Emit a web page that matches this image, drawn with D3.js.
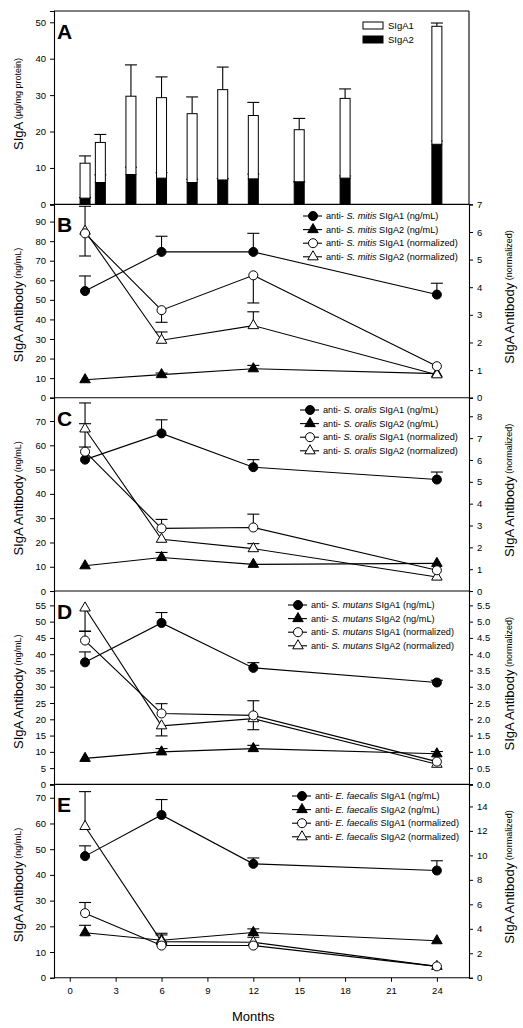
<!DOCTYPE html>
<html><head><meta charset="utf-8">
<script src="https://cdn.jsdelivr.net/npm/d3@7"></script>
<style>
body{margin:0;background:#fff}
text{font-family:Arial,"Liberation Sans",Helvetica,sans-serif;fill:#000}
</style>
</head><body>
<svg id="chart" width="523" height="1028"></svg>
<script>
// ---------- DATA ----------
// Panel A: stacked bars (µg/mg protein)
const monthsA   = [1, 2, 4, 6, 8, 10, 12, 15, 18, 24];
const sigA2     = [1.7, 6.0, 8.2, 7.2, 6.0, 6.7, 7.0, 6.2, 7.2, 16.5];
const sigA2Err  = [0.2, 2.1, 2.0, 1.5, 0.9, 0.4, 1.3, 0.0, 0.6, 0.9];
const sigA1     = [9.6, 11.0, 21.5, 22.1, 18.9, 24.8, 17.4, 14.3, 21.9, 32.4];
const sigA1Err  = [2.0, 2.2, 8.6, 5.7, 4.6, 6.2, 3.6, 3.1, 2.6, 0.9];
const barLegend = ["SIgA1", "SIgA2"];

// Panels B–E: antibody vs months
const months = [1, 6, 12, 24];
const species = ["S. mitis", "S. oralis", "S. mutans", "E. faecalis"];
const seriesSuffix = ["SIgA1 (ng/mL)", "SIgA2 (ng/mL)", "SIgA1 (normalized)", "SIgA2 (normalized)"];

// error: positive = upward bar, negative = downward bar, [lo,hi] = both ways, null = none
const mitisA1     = [54.5, 74.5, 74.5, 52.7];
const mitisA1Err  = [7.7, 8.0, 9.5, 5.8];
const mitisA2     = [9.2, 11.8, 14.8, 12.3];
const mitisA2Err  = [null, 0.8, 1.7, null];
const mitisA1n    = [5.95, 3.17, 4.43, 1.14];
const mitisA1nErr = [null, -0.44, -1.0, null];
const mitisA2n    = [6.03, 2.08, 2.61, 0.83];
const mitisA2nErr = [[0.9, 0.9], 0.3, 0.5, null];

const oralisA1     = [54.1, 64.9, 51.0, 45.9];
const oralisA1Err  = [5.2, 5.6, 3.1, 3.1];
const oralisA2     = [10.4, 13.8, 11.0, 11.4];
const oralisA2Err  = [null, 2.1, null, null];
const oralisA1n    = [6.38, 2.87, 2.91, 0.95];
const oralisA1nErr = [1.28, 0.41, 0.61, null];
const oralisA2n    = [7.42, 2.37, 1.94, 0.64];
const oralisA2nErr = [1.19, null, 0.23, null];

const mutansA1     = [37.5, 49.6, 35.8, 31.3];
const mutansA1Err  = [3.2, 3.2, 1.6, 0.7];
const mutansA2     = [8.0, 10.0, 11.0, 9.4];
const mutansA2Err  = [null, 1.0, 1.0, 0.7];
const mutansA1n    = [4.42, 2.18, 2.12, 0.70];
const mutansA1nErr = [0.29, 0.30, 0.45, null];
const mutansA2n    = [5.42, 1.80, 2.02, 0.62];
const mutansA2nErr = [-0.72, -0.31, -0.34, null];

const faecalisA1     = [47.3, 63.3, 44.3, 41.7];
const faecalisA1Err  = [4.0, 6.0, 2.3, 3.8];
const faecalisA2     = [17.5, 14.6, 17.6, 14.4];
const faecalisA2Err  = [2.9, 2.7, 1.4, null];
const faecalisA1n    = [5.28, 2.63, 2.63, 0.93];
const faecalisA1nErr = [0.87, null, null, null];
const faecalisA2n    = [12.36, 2.95, 2.90, 0.93];
const faecalisA2nErr = [2.85, 0.55, 0.41, null];

// tick labels
const xTicks = [0, 3, 6, 9, 12, 15, 18, 21, 24];
const xLabel = "Months";

// ---------- LAYOUT ----------
const svg = d3.select("#chart");
const L = 54, R = 469, top0 = 11, ph = 193.35;
const x = d3.scaleLinear().domain([-1.03, 26.1]).range([L, R]);

const panels = [
  {letter:"B", sp:0, yl:[0,98.8], yr:[0,7], lt:d3.range(0,91,10), rt:d3.range(0,8,1), rf:d3.format("d"),
   data:[mitisA1,mitisA2,mitisA1n,mitisA2n], err:[mitisA1Err,mitisA2Err,mitisA1nErr,mitisA2nErr], legX:313, legY:216},
  {letter:"C", sp:1, yl:[0,79.6], yr:[0,8.85], lt:d3.range(0,71,10), rt:d3.range(0,9,1), rf:d3.format("d"),
   data:[oralisA1,oralisA2,oralisA1n,oralisA2n], err:[oralisA1Err,oralisA2Err,oralisA1nErr,oralisA2nErr], legX:310, legY:410},
  {letter:"D", sp:2, yl:[0,59.4], yr:[0,5.94], lt:d3.range(0,56,5), rt:d3.range(0,5.51,0.5), rf:d3.format(".1f"),
   data:[mutansA1,mutansA2,mutansA1n,mutansA2n], err:[mutansA1Err,mutansA2Err,mutansA1nErr,mutansA2nErr], legX:298, legY:605},
  {letter:"E", sp:3, yl:[0,75.2], yr:[0,15.8], lt:d3.range(0,71,10), rt:d3.range(0,15,2), rf:d3.format("d"),
   data:[faecalisA1,faecalisA2,faecalisA1n,faecalisA2n], err:[faecalisA1Err,faecalisA2Err,faecalisA1nErr,faecalisA2nErr], legX:302, legY:796}
];

const stroke = "#000";
const tickFont = 9.5;

function styleAxis(g){
  g.select(".domain").attr("stroke", stroke).attr("stroke-width", 1.1);
  g.selectAll(".tick line").attr("stroke", stroke).attr("stroke-width", 1);
  g.selectAll(".tick text").attr("font-size", tickFont).attr("font-family","Arial, Liberation Sans, sans-serif");
}

function yTitle(xc, yc, main, sub, size){
  const t = svg.append("text").attr("transform", `translate(${xc},${yc}) rotate(-90)`)
    .attr("text-anchor","middle").attr("dominant-baseline","central");
  t.append("tspan").attr("font-size", size).text(main);
  t.append("tspan").attr("font-size", 9).text(" " + sub);
}

// ---------- PANEL A ----------
{
  const y0 = top0, y1 = top0 + ph;
  const y = d3.scaleLinear().domain([0, 53.1]).range([y1, y0]);
  const bw = 10, cap = 12;
  const rows = monthsA.map((m,i)=>({m, a2:sigA2[i], a2e:sigA2Err[i], a1:sigA1[i], a1e:sigA1Err[i]}));
  const stack = d3.stack().keys(["a2","a1"])(rows);
  // error bars (behind bars' top lines)
  const eg = svg.append("g").attr("stroke", stroke).attr("stroke-width", 1.1);
  rows.forEach(d=>{
    const t2 = d.a2, t1 = d.a2 + d.a1;
    [[t2, d.a2e],[t1, d.a1e]].forEach(([v,e])=>{
      eg.append("line").attr("x1",x(d.m)).attr("x2",x(d.m)).attr("y1",y(v)).attr("y2",y(v+e));
      eg.append("line").attr("x1",x(d.m)-cap/2).attr("x2",x(d.m)+cap/2).attr("y1",y(v+e)).attr("y2",y(v+e));
    });
  });
  const fills = ["#000","#fff"];
  stack.forEach((s,k)=>{
    svg.append("g").selectAll("rect").data(s).join("rect")
      .attr("x", d=>x(d.data.m)-bw/2).attr("width", bw)
      .attr("y", d=>y(d[1])).attr("height", d=>y(d[0])-y(d[1]))
      .attr("fill", fills[k]).attr("stroke", stroke).attr("stroke-width", 1);
  });
  // frame
  svg.append("line").attr("x1",L).attr("x2",R).attr("y1",y0).attr("y2",y0).attr("stroke",stroke).attr("stroke-width",1.1);
  svg.append("line").attr("x1",R).attr("x2",R).attr("y1",y0).attr("y2",y1).attr("stroke",stroke).attr("stroke-width",1.1);
  svg.append("line").attr("x1",L).attr("x2",R).attr("y1",y1).attr("y2",y1).attr("stroke",stroke).attr("stroke-width",1.1);
  svg.append("g").attr("transform",`translate(${L},0)`)
    .call(d3.axisLeft(y).tickValues(d3.range(0,51,10)).tickSize(4).tickPadding(4)).call(styleAxis);
  svg.append("text").attr("x",57).attr("y",39).attr("font-size",21).attr("font-weight","bold").text("A");
  yTitle(18, 104, "SIgA", "(µg/mg protein)", 13);
  // legend
  const lg = svg.append("g");
  [["#fff",22],["#000",36]].forEach(([f,yy],i)=>{
    lg.append("rect").attr("x",363).attr("y",yy).attr("width",20).attr("height",7).attr("fill",f).attr("stroke",stroke).attr("stroke-width",1);
    lg.append("text").attr("x",388).attr("y",yy+7).attr("font-size",9.5).text(barLegend[i]);
  });
}

// ---------- PANELS B–E ----------
const markerFill = ["#000","#000","#fff","#fff"];
const markerType = [d3.symbolCircle, d3.symbolTriangle, d3.symbolCircle, d3.symbolTriangle];
const markerSize = [64, 48, 64, 48];
const axisSide   = ["l","l","r","r"];

panels.forEach((p, pi)=>{
  const y0 = top0 + ph*(pi+1), y1 = y0 + ph;
  const yl = d3.scaleLinear().domain(p.yl).range([y1, y0]);
  const yr = d3.scaleLinear().domain(p.yr).range([y1, y0]);
  const g = svg.append("g");

  // frame lines
  g.append("line").attr("x1",L).attr("x2",R).attr("y1",y1).attr("y2",y1).attr("stroke",stroke).attr("stroke-width",1.1);

  const line = d3.line();
  // lines
  p.data.forEach((vals, si)=>{
    const ys = axisSide[si]==="l" ? yl : yr;
    g.append("path").attr("d", line(months.map((m,i)=>[x(m), ys(vals[i])])))
      .attr("fill","none").attr("stroke",stroke).attr("stroke-width",1.1);
  });
  // error bars
  const cap = 12;
  p.data.forEach((vals, si)=>{
    const ys = axisSide[si]==="l" ? yl : yr;
    p.err[si].forEach((e,i)=>{
      if(e===null) return;
      const ends = Array.isArray(e) ? [-e[0], e[1]] : [e];
      ends.forEach(d=>{
        const xv = x(months[i]), ya = ys(vals[i]), yb = ys(vals[i]+d);
        g.append("line").attr("x1",xv).attr("x2",xv).attr("y1",ya).attr("y2",yb).attr("stroke",stroke).attr("stroke-width",1.1);
        g.append("line").attr("x1",xv-cap/2).attr("x2",xv+cap/2).attr("y1",yb).attr("y2",yb).attr("stroke",stroke).attr("stroke-width",1.1);
      });
    });
  });
  // markers (open ones last so they sit on top, as in the figure)
  [0,1,3,2].forEach(si=>{
    const vals = p.data[si];
    const ys = axisSide[si]==="l" ? yl : yr;
    const sym = d3.symbol().type(markerType[si]).size(markerSize[si]);
    g.append("g").selectAll("path").data(vals).join("path")
      .attr("transform",(d,i)=>`translate(${x(months[i])},${ys(d)})`)
      .attr("d", sym).attr("fill", markerFill[si]).attr("stroke",stroke).attr("stroke-width",1);
  });

  // axes
  svg.append("g").attr("transform",`translate(${L},0)`)
    .call(d3.axisLeft(yl).tickValues(p.lt).tickSize(4).tickPadding(4)).call(styleAxis);
  svg.append("g").attr("transform",`translate(${R},0)`)
    .call(d3.axisRight(yr).tickValues(p.rt).tickFormat(p.rf).tickSize(4).tickPadding(4)).call(styleAxis);

  // letter
  svg.append("text").attr("x",57).attr("y",y0+28).attr("font-size",21).attr("font-weight","bold").text(p.letter);

  // titles
  const mid = (y0+y1)/2;
  yTitle(18, mid+4, "SIgA Antibody", "(ng/mL)", 13);
  yTitle(509, mid-4, "SIgA Antibody", "(normalized)", 13);

  // legend
  const lg = svg.append("g");
  seriesSuffix.forEach((suf, si)=>{
    const ly = p.legY + si*13.6;
    lg.append("line").attr("x1",p.legX-10).attr("x2",p.legX+9).attr("y1",ly).attr("y2",ly).attr("stroke",stroke).attr("stroke-width",1.1);
    lg.append("path").attr("transform",`translate(${p.legX},${ly})`)
      .attr("d", d3.symbol().type(markerType[si]).size(markerSize[si]))
      .attr("fill", markerFill[si]).attr("stroke",stroke).attr("stroke-width",1);
    const t = lg.append("text").attr("x",p.legX+13).attr("y",ly).attr("dominant-baseline","central").attr("font-size",9.2);
    t.append("tspan").text("anti- ");
    t.append("tspan").attr("font-style","italic").text(species[p.sp]);
    t.append("tspan").text(" " + suf);
  });

  // x axis at bottom panel only
  if(pi === panels.length-1){
    svg.append("g").attr("transform",`translate(0,${y1})`)
      .call(d3.axisBottom(x).tickValues(xTicks).tickSize(4).tickPadding(6)).call(styleAxis)
      .select(".domain").remove();
    svg.append("text").attr("x",(x(0)+x(24))/2).attr("y",y1+43).attr("text-anchor","middle").attr("font-size",13).text(xLabel);
  }
});
</script>
</body></html>
